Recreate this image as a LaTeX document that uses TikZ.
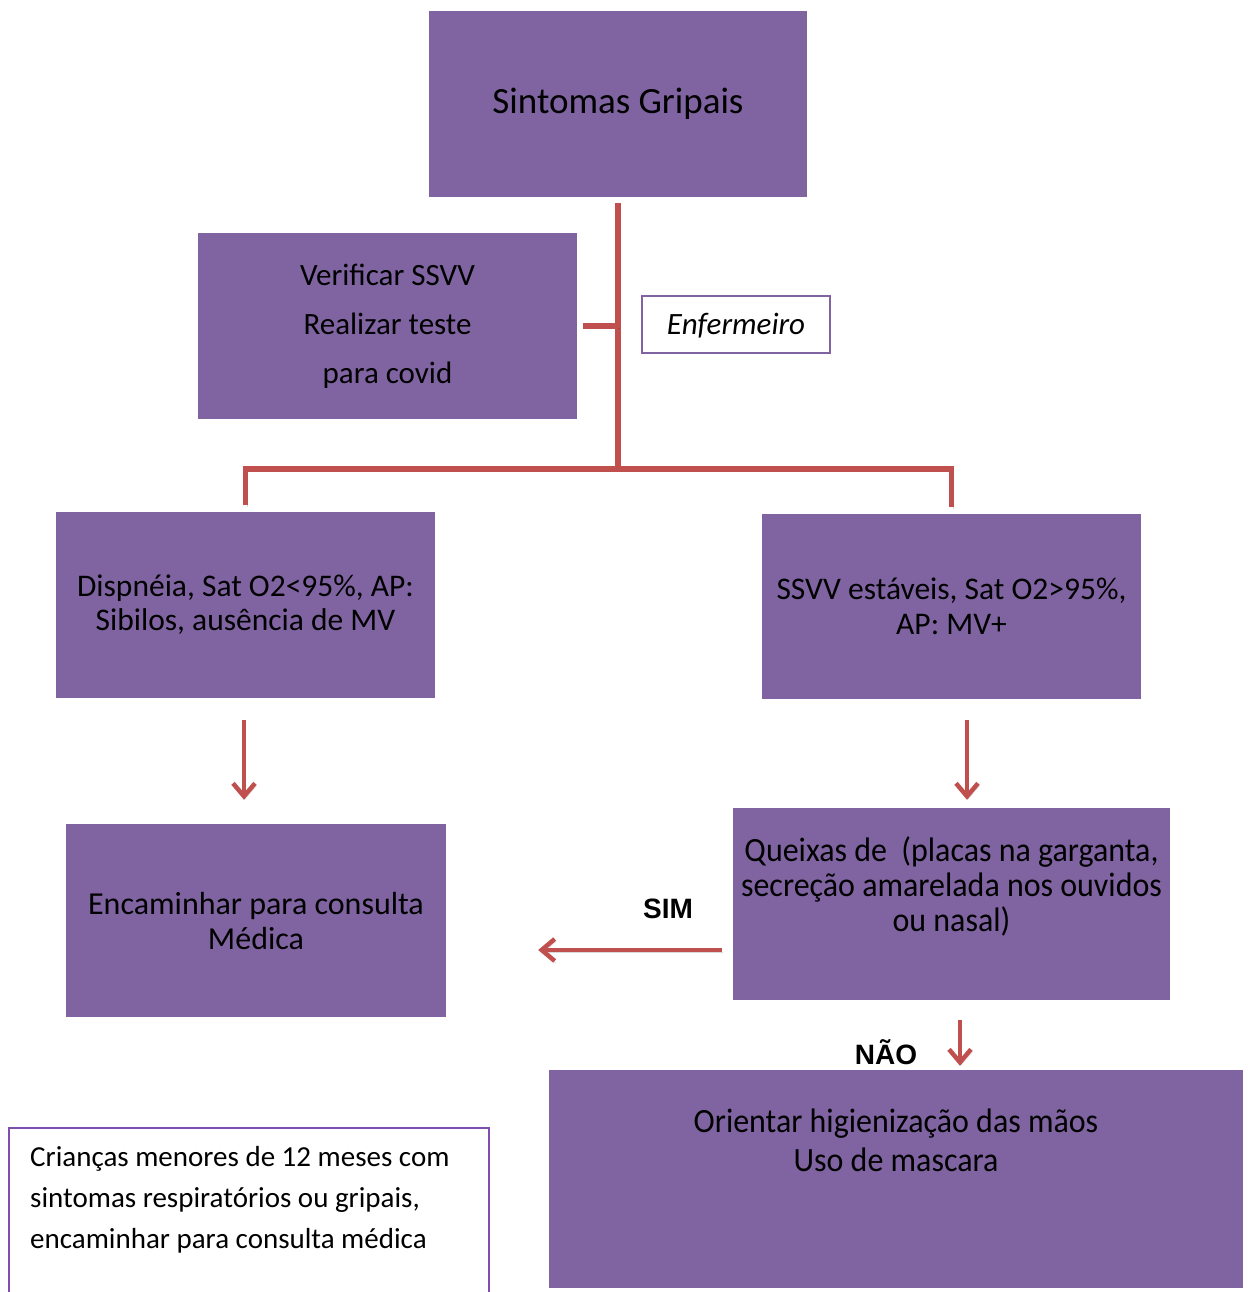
\documentclass[tikz,border=0pt]{standalone}
\usepackage{fontspec}
\setmainfont{Carlito}
\newfontfamily\narrowfont[FakeStretch=0.94]{Carlito}
\newfontfamily\labelfont{Liberation Sans}
\usetikzlibrary{arrows.meta}
\definecolor{boxpurple}{HTML}{8064A2}
\definecolor{linkred}{HTML}{C0504D}
\definecolor{notepurple}{HTML}{7F4FB0}
\begin{document}
\begin{tikzpicture}[x=1pt,y=-1pt,
  box/.style={rectangle, fill=boxpurple, draw=none, inner sep=0pt, align=center, text=black},
  link/.style={draw=linkred, line width=5.5pt,
    preaction={draw=black, opacity=0.15, transform canvas={shift={(1.5pt,-2.5pt)}}}},
  flow/.style={draw=linkred, line width=4.5pt, -{Straight Barb[length=13pt,width=22pt]},
    preaction={draw=black, opacity=0.15, transform canvas={shift={(1.5pt,-2.5pt)}}}},
  answer/.style={font=\labelfont\bfseries\fontsize{28}{32}\selectfont, inner sep=0pt, anchor=base}
]
\useasboundingbox (0,0) rectangle (1249,1292);

% boxes
\node[box, minimum width=378pt, minimum height=186pt, font=\fontsize{37}{44}\selectfont]
  (sint) at (618,104) {Sintomas Gripais};
\node[box, minimum width=379pt, minimum height=186pt, font=\fontsize{31}{49}\selectfont]
  (verif) at (387.5,326) {Verificar SSVV\\Realizar teste\\para covid};
\node[rectangle, fill=white, draw=boxpurple, line width=1.5pt, minimum width=188pt, minimum height=57pt,
  font=\itshape\fontsize{31}{36}\selectfont] (enf) at (736,324.5) {\raisebox{-10pt}[0pt][0pt]{Enfermeiro}};
\node[box, minimum width=379pt, minimum height=186pt, font=\fontsize{31.5}{34}\selectfont]
  (disp) at (245.5,605) {Dispnéia, Sat O2<95\%, AP:\\Sibilos, ausência de MV};
\node[box, minimum width=379pt, minimum height=185pt, font=\fontsize{31.5}{35}\selectfont]
  (stab) at (951.5,606.5) {SSVV estáveis, Sat O2>95\%,\\AP: MV+};
\node[box, minimum width=380pt, minimum height=193pt, font=\fontsize{32}{35}\selectfont]
  (enc) at (256,920.5) {Encaminhar para consulta\\Médica};
\node[box, minimum width=437pt, minimum height=192pt, font=\narrowfont\fontsize{34}{35}\selectfont]
  (q) at (951.5,904) {Queixas de~~(placas na garganta,\\secreção amarelada nos ouvidos\\ou nasal)\\[-6pt]\strut};

% answer labels (NÃO sits partly under the box below)
\node[answer] (sim) at (668,918) {SIM};
\node[answer] (nao) at (886,1064) {NÃO};

\node[box, minimum width=694pt, minimum height=218pt, font=\narrowfont\fontsize{34}{39}\selectfont]
  (orient) at (896,1179) {Orientar higienização das mãos\\Uso de mascara\\\strut\\[-12pt]\strut};

% note box, open at the bottom edge
\draw[notepurple, line width=2pt] (9,1300) -- (9,1128) -- (489,1128) -- (489,1300);
\node[anchor=base west, inner sep=0pt, align=left, font=\fontsize{29}{41}\selectfont] (note) at (30,1248)
  {Crianças menores de 12 meses com\\sintomas respiratórios ou gripais,\\encaminhar para consulta médica};

% connectors
\coordinate (jn) at (618,469);
\coordinate (tv) at (618,326);
\draw[link] ([yshift=-6]sint.south) -- (jn);
\draw[link] ([xshift=6]verif.east) -- (tv);
\draw[link] (jn) -| ([yshift=7]disp.north);
\draw[link] (jn) -| ([yshift=7]stab.north);

% arrows
\draw[flow] ([xshift=-1.5,yshift=-22]disp.south) -- ([xshift=-1.5,yshift=24]disp.south |- enc.north);
\draw[flow] ([xshift=15.5,yshift=-21]stab.south) -- ([xshift=15.5,yshift=8]stab.south |- q.north);
\draw[flow] ([xshift=-11,yshift=-46]q.west) -- ([xshift=92,yshift=-46]enc.east |- q.west);
\draw[flow] ([xshift=8.5,yshift=-20]q.south) -- ([xshift=8.5,yshift=4]q.south |- orient.north);
\end{tikzpicture}
\end{document}
